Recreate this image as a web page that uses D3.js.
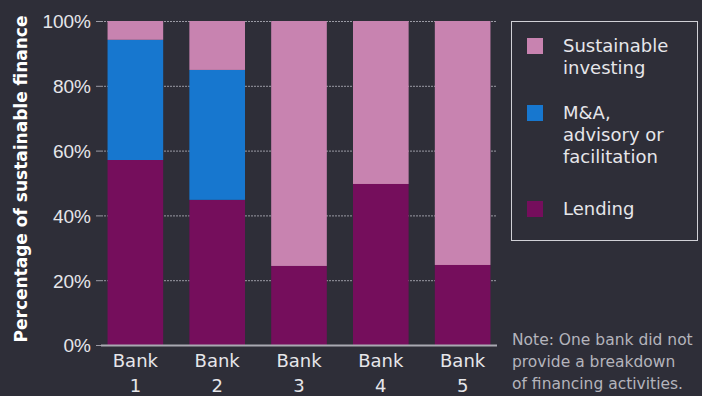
<!DOCTYPE html>
<html>
<head>
<meta charset="utf-8">
<script src="https://cdn.jsdelivr.net/npm/d3@7"></script>
<style>
	body { margin: 0; background: #2e2e38; }
	svg { display: block; font-family: "DejaVu Sans", sans-serif; }
</style>
</head>
<body>
<script>
const banks = ["Bank 1", "Bank 2", "Bank 3", "Bank 4", "Bank 5"];
const lending = [57.1, 44.8, 24.4, 49.7, 24.7];
const advisory = [37.1, 40.1, 0, 0, 0];
const investing = [5.8, 15.1, 75.6, 50.3, 75.3];
const yTicks = [0, 20, 40, 60, 80, 100];
const seriesNames = ["Sustainable investing", "M&A, advisory or facilitation", "Lending"];
const legendLines = [["Sustainable", "investing"], ["M&A,", "advisory or", "facilitation"], ["Lending"]];
const noteLines = ["Note: One bank did not", "provide a breakdown", "of financing activities."];

const colors = {
	"Lending": "#750e5c",
	"M&A, advisory or facilitation": "#1777cf",
	"Sustainable investing": "#c883b0"
};

const width = 702, height = 396;
const svg = d3.select("body").append("svg").attr("width", width).attr("height", height);

const rows = banks.map((b, i) => ({
	bank: b,
	"Lending": lending[i],
	"M&A, advisory or facilitation": advisory[i],
	"Sustainable investing": investing[i]
}));
const stack = d3.stack().keys(["Lending", "M&A, advisory or facilitation", "Sustainable investing"]);
const layers = stack(rows);

const x = d3.scaleBand().domain(banks).range([101, 497]).paddingInner(0.32).paddingOuter(0.08);
const y = d3.scaleLinear().domain([0, 100]).range([345, 21]);

// grid lines
svg.append("g")
	.selectAll("line")
	.data(yTicks.filter(d => d > 0))
	.enter()
	.append("line")
	.attr("x1", 101).attr("x2", 497)
	.attr("y1", d => y(d) + 0.5).attr("y2", d => y(d) + 0.5)
	.attr("stroke", "#9a9aa4")
	.attr("stroke-width", 1)
	.attr("stroke-dasharray", "2,1");

// y axis
const yAxis = d3.axisLeft(y).tickValues(yTicks).tickFormat(d => d + "%").tickSize(5).tickPadding(5);
const gy = svg.append("g").attr("transform", "translate(101,0)").call(yAxis);
gy.select(".domain").remove();
gy.selectAll(".tick line").attr("stroke", "#9a9aa4");
gy.selectAll(".tick text").attr("fill", "#e6e6ea").style("font-size", "19px").attr("dy", "0.36em");

// bars
svg.append("g")
	.selectAll("g")
	.data(layers)
	.enter()
	.append("g")
	.attr("fill", d => colors[d.key])
	.selectAll("rect")
	.data(d => d)
	.enter()
	.append("rect")
	.attr("x", d => x(d.data.bank))
	.attr("y", d => y(d[1]))
	.attr("width", x.bandwidth())
	.attr("height", d => y(d[0]) - y(d[1]));

// x axis line
svg.append("line")
	.attr("x1", 101).attr("x2", 497)
	.attr("y1", 345.5).attr("y2", 345.5)
	.attr("stroke", "#a9a9b2").attr("stroke-width", 2);

// bank labels
const xl = svg.append("g")
	.selectAll("text")
	.data(banks)
	.enter()
	.append("text")
	.attr("x", d => x(d) + x.bandwidth() / 2)
	.attr("text-anchor", "middle")
	.attr("fill", "#e6e6ea")
	.style("font-size", "18px");
xl.append("tspan").attr("x", d => x(d) + x.bandwidth() / 2).attr("y", 367).text(d => d.split(" ")[0]);
xl.append("tspan").attr("x", d => x(d) + x.bandwidth() / 2).attr("y", 392).text(d => d.split(" ")[1]);

// y label
svg.append("text")
	.attr("transform", "translate(27,179) rotate(-90)")
	.attr("text-anchor", "middle")
	.attr("fill", "#ffffff")
	.style("font-size", "17px")
	.style("font-weight", "bold")
	.text("Percentage of sustainable finance");

// legend
svg.append("rect")
	.attr("x", 511.5).attr("y", 21.5)
	.attr("width", 186).attr("height", 219)
	.attr("fill", "none")
	.attr("stroke", "#d0d0d6").attr("stroke-width", 1);

const legendY = [38, 105, 201];
const legend = svg.append("g")
	.selectAll("g")
	.data(seriesNames)
	.enter()
	.append("g")
	.attr("transform", (d, i) => "translate(527," + legendY[i] + ")");
legend.append("rect").attr("width", 16).attr("height", 16).attr("fill", d => colors[d]);
legend.append("text")
	.attr("fill", "#e6e6ea")
	.style("font-size", "18px")
	.selectAll("tspan")
	.data((d, i) => legendLines[i])
	.enter()
	.append("tspan")
	.attr("x", 36)
	.attr("y", (d, i) => 14 + i * 22)
	.text(d => d);

// note
svg.append("text")
	.attr("fill", "#b4b4bc")
	.style("font-size", "15.5px")
	.selectAll("tspan")
	.data(noteLines)
	.enter()
	.append("tspan")
	.attr("x", 512)
	.attr("y", (d, i) => 345 + i * 22)
	.text(d => d);
</script>
</body>
</html>
